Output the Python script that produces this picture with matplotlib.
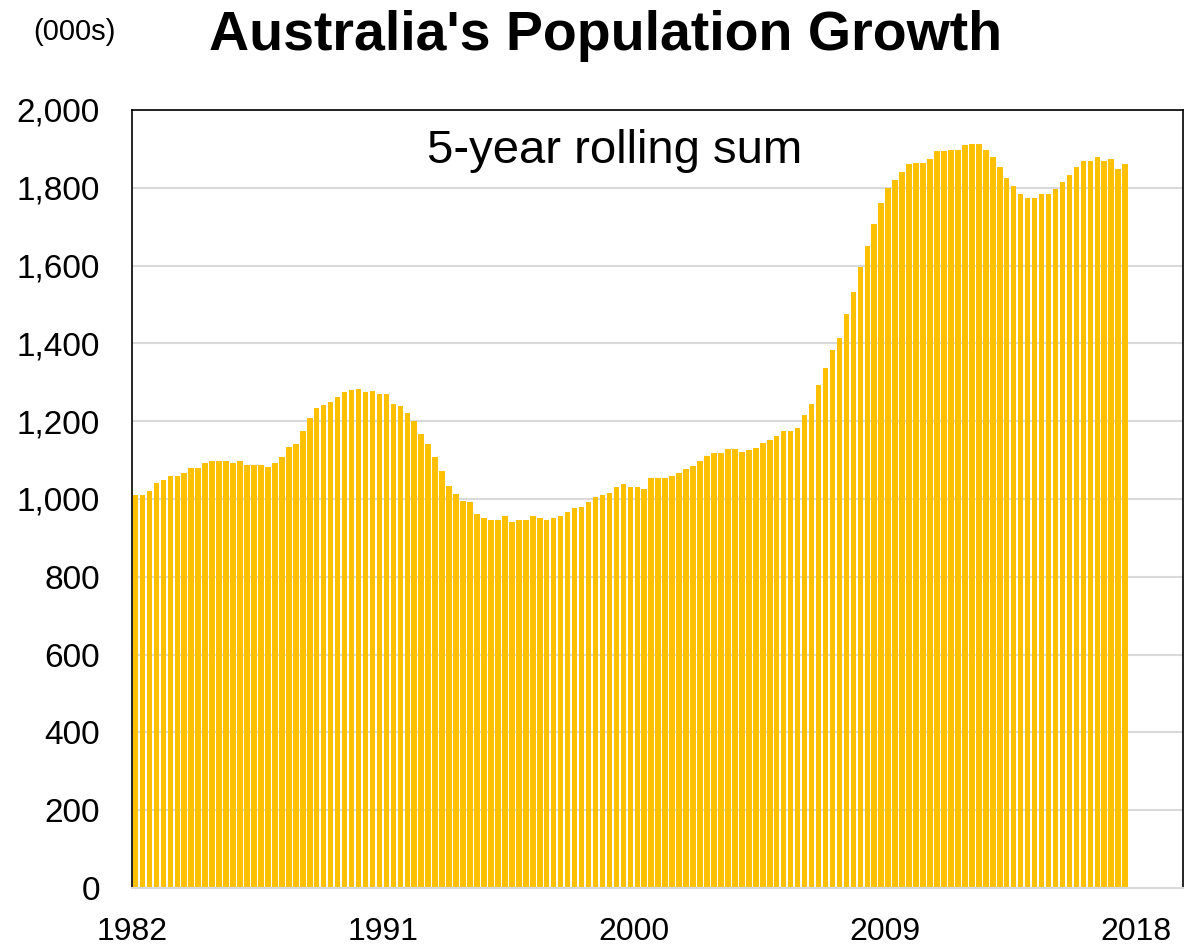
import matplotlib
matplotlib.use("Agg")
import matplotlib.pyplot as plt
from matplotlib.ticker import FuncFormatter

plt.rcParams['font.family'] = ['Liberation Sans', 'DejaVu Sans']

# quarterly 5-year rolling sum of population growth, 000s, from 1982 Q1
growth = [
    1010, 1010, 1020, 1040, 1048, 1060, 1060, 1068, 1079, 1079,
    1093, 1098, 1098, 1098, 1093, 1098, 1087, 1087, 1087, 1083,
    1093, 1107, 1133, 1141, 1175, 1207, 1235, 1241, 1250, 1263,
    1274, 1279, 1284, 1274, 1278, 1270, 1269, 1245, 1239, 1220,
    1200, 1166, 1141, 1107, 1071, 1033, 1013, 995, 991, 961,
    951, 946, 946, 956, 942, 946, 946, 957, 951, 946,
    951, 957, 966, 976, 980, 991, 1005, 1010, 1015, 1030,
    1038, 1030, 1030, 1025, 1053, 1054, 1053, 1058, 1068, 1078,
    1084, 1098, 1110, 1117, 1117, 1128, 1128, 1122, 1126, 1132,
    1143, 1152, 1162, 1175, 1176, 1182, 1215, 1245, 1294, 1337,
    1382, 1415, 1475, 1532, 1596, 1650, 1707, 1762, 1800, 1821,
    1840, 1860, 1864, 1864, 1874, 1894, 1894, 1898, 1898, 1909,
    1913, 1913, 1898, 1878, 1854, 1824, 1805, 1785, 1774, 1774,
    1785, 1785, 1797, 1814, 1834, 1854, 1868, 1868, 1878, 1868,
    1874, 1848, 1860,
]
year_labels = ['1982', '1991', '2000', '2009', '2018']
label_pos = [0, 36, 72, 108, 144]   # quarter index of each label

fig = plt.figure(figsize=(11.86, 9.49), dpi=100)
ax = fig.add_axes([0.1113, 0.0643, 0.8862, 0.8198])

xs = [i + 0.5 for i in range(len(growth))]
ax.bar(xs, growth, width=0.8, color='#FFC000', zorder=2)

ax.set_ylim(0, 2000)
ax.set_xlim(0, 150.8)
ax.set_yticks(range(0, 2001, 200))
ax.yaxis.set_major_formatter(FuncFormatter(lambda v, p: f'{int(v):,}'))
ax.set_xticks(label_pos)
ax.set_xticklabels(year_labels)
ax.tick_params(axis='y', length=0, pad=23, labelsize=24)
ax.tick_params(axis='x', length=0, pad=21, labelsize=23)
ax.grid(axis='y', color='#d9d9d9', linewidth=1.5, zorder=0)
ax.set_axisbelow(True)

for s in ['left', 'top', 'right']:
    ax.spines[s].set_color('black')
    ax.spines[s].set_linewidth(1.2)
ax.spines['bottom'].set_color('#d9d9d9')
ax.spines['bottom'].set_linewidth(1.5)

fig.text(0.511, 0.962, "Australia's Population Growth", ha='center', va='center',
         fontsize=40, fontweight='bold')
fig.text(0.0624, 0.966, '(000s)', ha='center', va='center', fontsize=21)
fig.text(0.5185, 0.841, '5-year rolling sum', ha='center', va='center', fontsize=34)

fig.savefig('out.png', dpi=100)
